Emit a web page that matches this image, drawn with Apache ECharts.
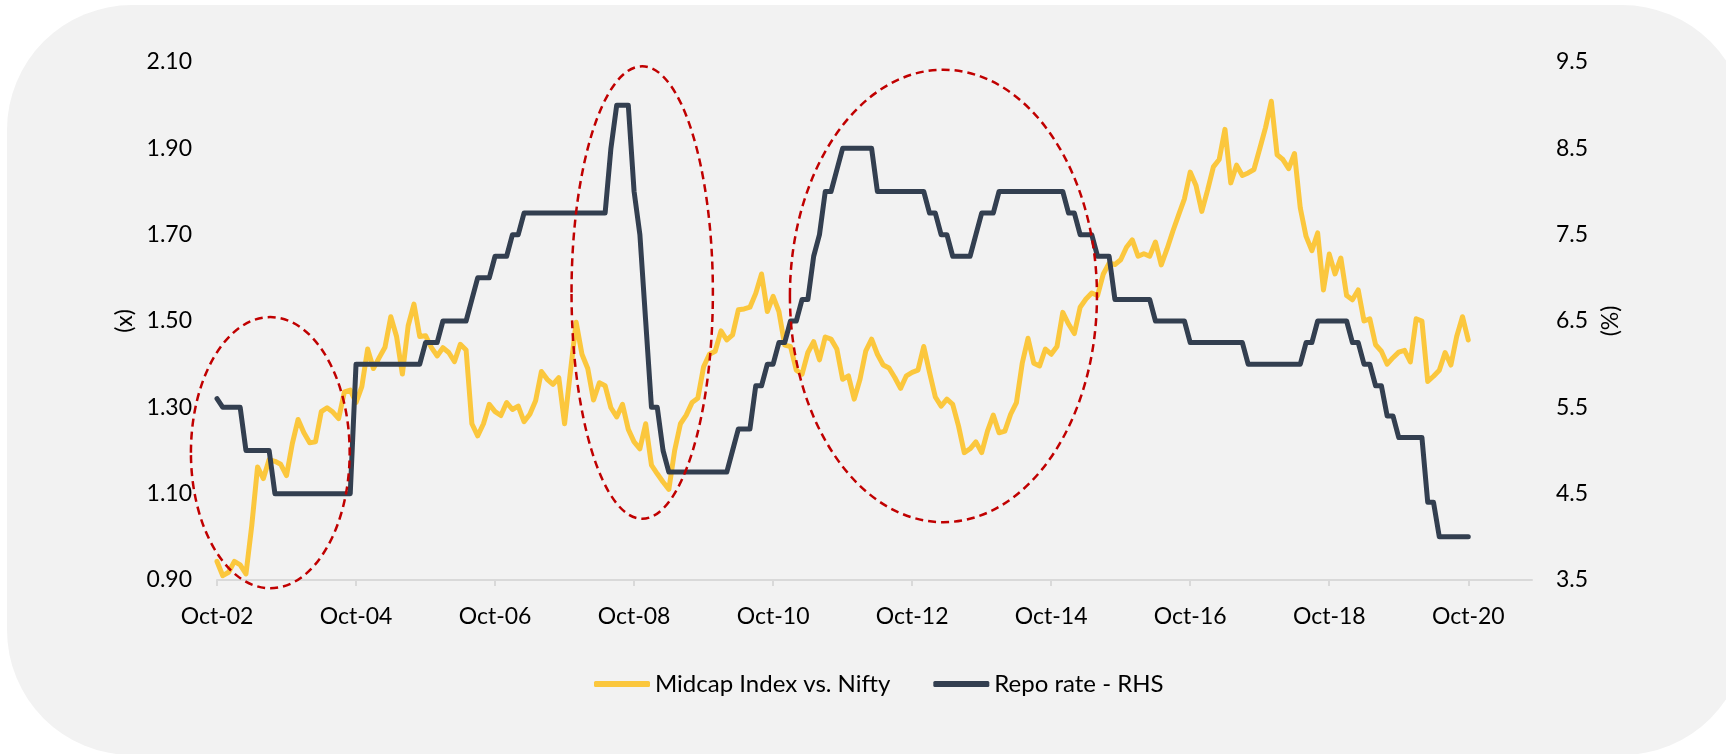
<!DOCTYPE html>
<html>
<head>
<meta charset="utf-8">
<script src="https://cdn.jsdelivr.net/npm/echarts@6/dist/echarts.min.js"></script>
<style>
html,body{margin:0;padding:0;background:#ffffff;}
#chart{width:1726px;height:754px;}
</style>
</head>
<body>
<div id="chart"></div>
<script>
// ---------- DATA ----------
// Monthly observations, Oct-02 (index 0) to Oct-20 (index 216)
const startYear = 2002, startMonth = 9;           // October 2002
const extraMonths = 11;                            // empty axis room after Oct-20
const tickLabels = ['Oct-02','Oct-04','Oct-06','Oct-08','Oct-10','Oct-12','Oct-14','Oct-16','Oct-18','Oct-20'];

const midcapVsNifty = [
0.943,0.910,0.918,0.943,0.935,0.914,1.026,1.162,1.135,1.179,1.175,1.168,
1.142,1.216,1.272,1.241,1.218,1.220,1.290,1.299,1.289,1.274,1.336,1.340,
1.311,1.348,1.435,1.390,1.415,1.439,1.510,1.464,1.377,1.489,1.539,1.464,
1.466,1.439,1.419,1.438,1.427,1.406,1.446,1.433,1.262,1.234,1.262,1.307,
1.290,1.281,1.311,1.295,1.303,1.267,1.284,1.315,1.383,1.365,1.353,1.369,
1.262,1.382,1.497,1.423,1.390,1.317,1.357,1.350,1.299,1.278,1.307,1.249,
1.220,1.204,1.262,1.166,1.146,1.127,1.110,1.200,1.262,1.282,1.311,1.321,
1.394,1.423,1.430,1.477,1.456,1.468,1.526,1.528,1.532,1.564,1.609,1.522,
1.557,1.522,1.444,1.441,1.386,1.377,1.427,1.452,1.410,1.463,1.458,1.435,
1.365,1.373,1.319,1.365,1.431,1.458,1.423,1.398,1.391,1.369,1.344,1.373,
1.381,1.386,1.441,1.381,1.324,1.303,1.319,1.307,1.257,1.195,1.204,1.220,
1.195,1.245,1.282,1.241,1.245,1.284,1.311,1.402,1.460,1.402,1.396,1.435,
1.423,1.441,1.520,1.493,1.471,1.532,1.551,1.565,1.559,1.609,1.634,1.631,
1.642,1.671,1.688,1.650,1.656,1.650,1.683,1.630,1.667,1.708,1.746,1.783,
1.845,1.814,1.754,1.803,1.857,1.874,1.944,1.820,1.861,1.837,1.843,1.851,
1.899,1.948,2.009,1.885,1.874,1.853,1.888,1.762,1.696,1.663,1.704,1.572,
1.655,1.609,1.646,1.559,1.549,1.572,1.500,1.505,1.445,1.430,1.400,1.415,
1.428,1.432,1.405,1.505,1.500,1.360,1.372,1.386,1.427,1.398,1.464,1.510,
1.456
];

const repoRate = [
5.6,5.5,5.5,5.5,5.5,5.0,5.0,5.0,5.0,5.0,4.5,4.5,
4.5,4.5,4.5,4.5,4.5,4.5,4.5,4.5,4.5,4.5,4.5,4.5,
6.0,6.0,6.0,6.0,6.0,6.0,6.0,6.0,6.0,6.0,6.0,6.0,
6.25,6.25,6.25,6.5,6.5,6.5,6.5,6.5,6.75,7.0,7.0,7.0,
7.25,7.25,7.25,7.5,7.5,7.75,7.75,7.75,7.75,7.75,7.75,7.75,
7.75,7.75,7.75,7.75,7.75,7.75,7.75,7.75,8.5,9.0,9.0,9.0,
8.0,7.5,6.5,5.5,5.5,5.0,4.75,4.75,4.75,4.75,4.75,4.75,
4.75,4.75,4.75,4.75,4.75,5.0,5.25,5.25,5.25,5.75,5.75,6.0,
6.0,6.25,6.25,6.5,6.5,6.75,6.75,7.25,7.5,8.0,8.0,8.25,
8.5,8.5,8.5,8.5,8.5,8.5,8.0,8.0,8.0,8.0,8.0,8.0,
8.0,8.0,8.0,7.75,7.75,7.5,7.5,7.25,7.25,7.25,7.25,7.5,
7.75,7.75,7.75,8.0,8.0,8.0,8.0,8.0,8.0,8.0,8.0,8.0,
8.0,8.0,8.0,7.75,7.75,7.5,7.5,7.5,7.25,7.25,7.25,6.75,
6.75,6.75,6.75,6.75,6.75,6.75,6.5,6.5,6.5,6.5,6.5,6.5,
6.25,6.25,6.25,6.25,6.25,6.25,6.25,6.25,6.25,6.25,6.0,6.0,
6.0,6.0,6.0,6.0,6.0,6.0,6.0,6.0,6.25,6.25,6.5,6.5,
6.5,6.5,6.5,6.5,6.25,6.25,6.0,6.0,5.75,5.75,5.4,5.4,
5.15,5.15,5.15,5.15,5.15,4.4,4.4,4.0,4.0,4.0,4.0,4.0,
4.0
];

// Dashed annotation ellipses, in data units (month index, left-axis value)
const ellipseMonths   = [9.2, 73.4, 125.4];
const ellipseValues   = [1.195, 1.566, 1.558];
const ellipseRMonths  = [13.7, 12.2, 26.5];
const ellipseRValues  = [0.314, 0.524, 0.524];

// ---------- BUILD ----------
const monNames = ['Jan','Feb','Mar','Apr','May','Jun','Jul','Aug','Sep','Oct','Nov','Dec'];
const categories = [];
for (let i = 0; i < midcapVsNifty.length + extraMonths; i++) {
  const t = startMonth + i;
  const y = startYear + Math.floor(t / 12);
  categories.push(monNames[t % 12] + '-' + String(y % 100).padStart(2, '0'));
}

const FONT = 'Lato, "Open Sans", sans-serif';
const YELLOW = '#FBC73D';
const NAVY = '#333F50';

const chart = echarts.init(document.getElementById('chart'), null, {renderer: 'canvas'});

const bgRect = {
  type: 'rect', z: -10, silent: true,
  shape: {x: 7, y: 5, width: 1740, height: 750, r: 125},
  style: {fill: '#F2F2F2'}
};

const option = {
  backgroundColor: '#ffffff',
  animation: false,
  textStyle: {fontFamily: FONT, color: '#000'},
  grid: {left: 217, right: 194, top: 62, bottom: 174, containLabel: false},
  legend: {
    left: 589, top: 667,
    icon: 'roundRect', itemWidth: 56, itemHeight: 6, itemGap: 43,
    textStyle: {fontFamily: FONT, fontSize: 24, color: '#000'},
    data: ['Midcap Index vs. Nifty', 'Repo rate - RHS']
  },
  xAxis: {
    type: 'category',
    data: categories,
    boundaryGap: false,
    axisLine: {lineStyle: {color: '#D9D9D9', width: 2}},
    axisTick: {show: true, interval: 23, length: 6, lineStyle: {color: '#D9D9D9', width: 2}},
    axisLabel: {
      interval: 23, margin: 25, fontSize: 23, color: '#000', fontFamily: FONT,
      formatter: v => (tickLabels.indexOf(v) >= 0 ? v : '')
    },
    splitLine: {show: false}
  },
  yAxis: [
    {
      type: 'value', min: 0.9, max: 2.1, interval: 0.2, position: 'left',
      name: '(x)', nameLocation: 'middle', nameGap: 72,
      nameTextStyle: {fontSize: 23, color: '#000', fontFamily: FONT},
      axisLine: {show: false}, axisTick: {show: false}, splitLine: {show: false},
      axisLabel: {margin: 25, fontSize: 23, color: '#000', fontFamily: FONT, formatter: v => v.toFixed(2)}
    },
    {
      type: 'value', min: 3.5, max: 9.5, interval: 1, position: 'right',
      name: '(%)', nameLocation: 'middle', nameGap: 65,
      nameTextStyle: {fontSize: 23, color: '#000', fontFamily: FONT},
      axisLine: {show: false}, axisTick: {show: false}, splitLine: {show: false},
      axisLabel: {margin: 24, fontSize: 23, color: '#000', fontFamily: FONT, formatter: v => v.toFixed(1)}
    }
  ],
  series: [
    {
      name: 'Midcap Index vs. Nifty', type: 'line', yAxisIndex: 0,
      data: midcapVsNifty, showSymbol: false, symbol: 'none',
      lineStyle: {color: YELLOW, width: 5, cap: 'round', join: 'round'},
      itemStyle: {color: YELLOW}, z: 3
    },
    {
      name: 'Repo rate - RHS', type: 'line', yAxisIndex: 1,
      data: repoRate, showSymbol: false, symbol: 'none',
      lineStyle: {color: NAVY, width: 5, cap: 'round', join: 'round'},
      itemStyle: {color: NAVY}, z: 4
    }
  ],
  graphic: [bgRect]
};
chart.setOption(option);

// place annotation ellipses through the axes' own scales
const conv = p => chart.convertToPixel({xAxisIndex: 0, yAxisIndex: 0}, p);
const ellipses = ellipseMonths.map((m, i) => {
  const a = conv([0, ellipseValues[i]]);
  const b = conv([24, ellipseValues[i] - ellipseRValues[i]]);
  const unitX = (b[0] - a[0]) / 24;
  return {
    type: 'ellipse', z: 100, silent: true,
    shape: {
      cx: a[0] + unitX * m,
      cy: a[1],
      rx: unitX * ellipseRMonths[i],
      ry: b[1] - a[1]
    },
    style: {fill: 'none', stroke: '#C00000', lineWidth: 2.5, lineDash: [8, 5]}
  };
});
chart.setOption({graphic: [bgRect].concat(ellipses)});
</script>
</body>
</html>
